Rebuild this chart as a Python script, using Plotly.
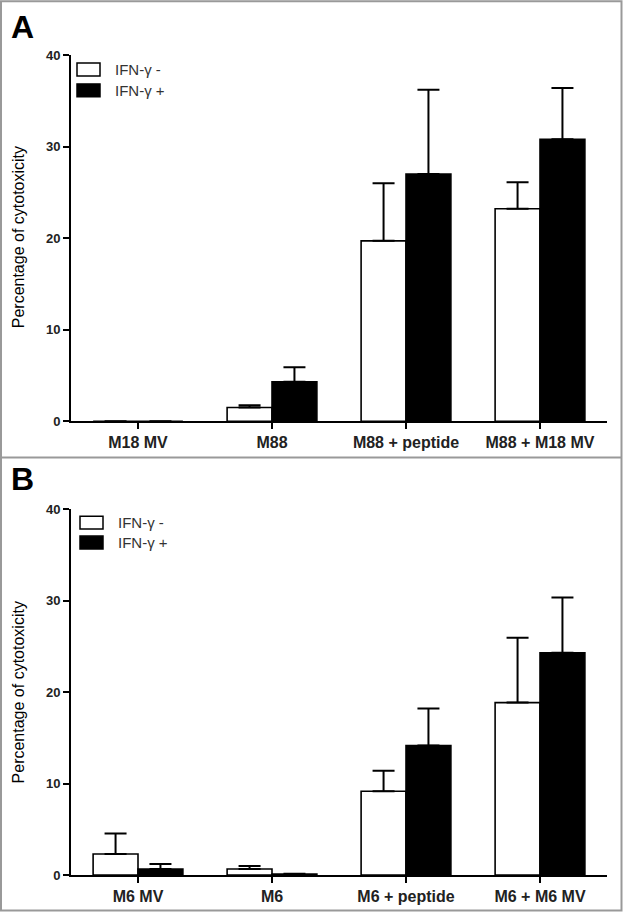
import plotly.graph_objects as go

# ---------------- data ----------------
cats_a = ["M18 MV", "M88", "M88 + peptide", "M88 + M18 MV"]
ifn_neg_a = [0.0, 1.5, 19.7, 23.2]
ifn_neg_a_err = [0.0, 0.25, 6.3, 2.9]
ifn_pos_a = [0.0, 4.3, 27.0, 30.8]
ifn_pos_a_err = [0.0, 1.6, 9.2, 5.6]

cats_b = ["M6 MV", "M6", "M6 + peptide", "M6 + M6 MV"]
ifn_neg_b = [2.3, 0.65, 9.15, 18.85]
ifn_neg_b_err = [2.25, 0.33, 2.25, 7.1]
ifn_pos_b = [0.65, 0.1, 14.15, 24.3]
ifn_pos_b_err = [0.55, 0.05, 4.05, 6.05]

series_names = ["IFN-γ -", "IFN-γ +"]
y_ticks = [0, 10, 20, 30, 40]
y_title = "Percentage of cytotoxicity"

# ---------------- figure ----------------
W, H = 624, 917
ML, MR, MT, MB = 71, 17, 55, 38.7
plot_w = W - ML - MR
plot_h = H - MT - MB
bottom_px = H - MB


def px_x(px):
    return (px - ML) / plot_w


def px_y(py):
    return (bottom_px - py) / plot_h


FONT = "Liberation Sans, Arial, sans-serif"

fig = go.Figure()


def add_bars(cats, neg, neg_err, pos, pos_err, xa, ya):
    fig.add_trace(go.Bar(
        x=cats, y=neg, name=series_names[0], xaxis=xa, yaxis=ya,
        marker=dict(color="white", line=dict(color="black", width=1.6)),
        error_y=dict(type="data", array=neg_err, arrayminus=[0] * len(neg_err),
                     symmetric=False, color="black", thickness=2, width=11),
        showlegend=False,
    ))
    fig.add_trace(go.Bar(
        x=cats, y=pos, name=series_names[1], xaxis=xa, yaxis=ya,
        marker=dict(color="black", line=dict(color="black", width=1.6)),
        error_y=dict(type="data", array=pos_err, arrayminus=[0] * len(pos_err),
                     symmetric=False, color="black", thickness=2, width=11),
        showlegend=False,
    ))


add_bars(cats_a, ifn_neg_a, ifn_neg_a_err, ifn_pos_a, ifn_pos_a_err, "x", "y")
add_bars(cats_b, ifn_neg_b, ifn_neg_b_err, ifn_pos_b, ifn_pos_b_err, "x2", "y2")

top_a = px_y(55)
bot_a = px_y(422.7)
top_b = px_y(511)

xaxis_common = dict(
    showline=True, linecolor="black", linewidth=2,
    ticks="outside", ticklen=6, tickwidth=2, tickcolor="black",
    tickfont=dict(family=FONT, size=16, color="#222", weight="bold"),
    showgrid=False, zeroline=False, domain=[0, 1],
    range=[-0.5, 3.5],
)
yaxis_common = dict(
    showline=True, linecolor="black", linewidth=2,
    ticks="outside", ticklen=6, tickwidth=2, tickcolor="black",
    tickvals=y_ticks,
    tickfont=dict(family=FONT, size=13, color="#222", weight="bold"),
    showgrid=False, zeroline=False, range=[0, 40],
)

fig.update_layout(
    width=W, height=H,
    margin=dict(l=ML, r=MR, t=MT, b=MB),
    paper_bgcolor="white", plot_bgcolor="white",
    barmode="group", bargap=0.33, bargroupgap=0,
    xaxis=dict(**xaxis_common, anchor="y"),
    yaxis=dict(**yaxis_common, domain=[bot_a, top_a], anchor="x"),
    xaxis2=dict(**xaxis_common, anchor="y2"),
    yaxis2=dict(**yaxis_common, domain=[0, top_b], anchor="x2"),
    showlegend=False,
)

shapes = []
annotations = []

# outer frame and divider
shapes.append(dict(type="rect", xref="paper", yref="paper",
                   x0=px_x(1), x1=px_x(621.5), y0=px_y(914), y1=px_y(1),
                   line=dict(color="#999999", width=2), fillcolor="rgba(0,0,0,0)"))
shapes.append(dict(type="line", xref="paper", yref="paper",
                   x0=px_x(1), x1=px_x(621.5), y0=px_y(459), y1=px_y(459),
                   line=dict(color="#999999", width=2)))

# panel letters
for letter, cy in [("A", 27), ("B", 481)]:
    annotations.append(dict(text=letter, xref="paper", yref="paper",
                            x=px_x(22), y=px_y(cy), showarrow=False,
                            xanchor="center", yanchor="middle",
                            font=dict(family=FONT, size=32, color="black", weight="bold")))

# y-axis titles
for cy in [238, 695]:
    annotations.append(dict(text=y_title, xref="paper", yref="paper",
                            x=px_x(18), y=px_y(cy), showarrow=False, textangle=-90,
                            xanchor="center", yanchor="middle",
                            font=dict(family=FONT, size=16, color="black")))

# legends
legend_pos = [(77, 63, 84, 113), (80, 518, 538, 116)]
for x0, yw, yb, xt in legend_pos:
    for (yy, fill, name) in [(yw, "white", series_names[0]), (yb, "black", series_names[1])]:
        shapes.append(dict(type="rect", xref="paper", yref="paper",
                           x0=px_x(x0), x1=px_x(x0 + 23), y0=px_y(yy + 13), y1=px_y(yy),
                           line=dict(color="black", width=1.5), fillcolor=fill))
        annotations.append(dict(text=name, xref="paper", yref="paper",
                                x=px_x(xt), y=px_y(yy + 6.5), showarrow=False,
                                xanchor="left", yanchor="middle",
                                font=dict(family=FONT, size=15, color="#333")))

fig.update_layout(shapes=shapes, annotations=annotations)

fig.write_html(
    "out.html",
    config={"displayModeBar": False},
    post_script="document.body.style.margin='0';document.body.style.overflow='hidden';",
)
